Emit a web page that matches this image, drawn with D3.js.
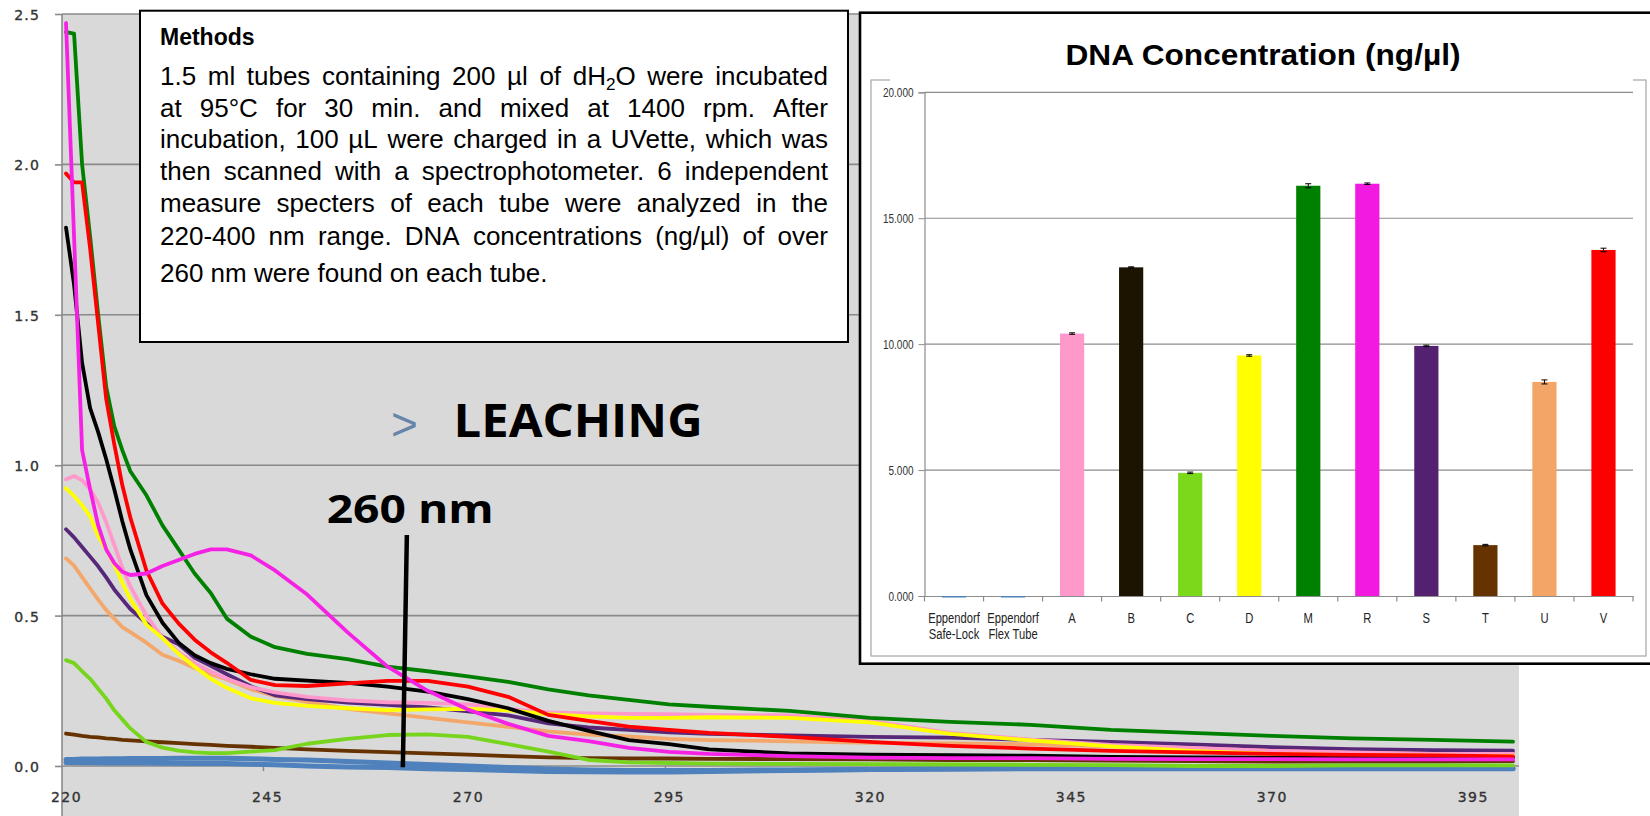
<!DOCTYPE html>
<html><head><meta charset="utf-8">
<script src="https://cdn.jsdelivr.net/npm/d3@7"></script>
<style>html,body{margin:0;padding:0;background:#fff;overflow:hidden}</style>
</head><body>
<svg id="c" width="1650" height="816" xmlns="http://www.w3.org/2000/svg"></svg>
<script>
// ================= DATA =================
const wavelengths = [220,221,222,223,224,225,226,227,228,230,232,234,236,238,240,243,246,250,255,260,265,270,275,280,285,290,295,300,310,320,330,340,350,360,370,380,390,400];
const absSafeLock = [0.022,0.022,0.023,0.023,0.023,0.024,0.024,0.024,0.025,0.025,0.025,0.026,0.026,0.026,0.026,0.024,0.022,0.02,0.015,0.01,0.005,0.0,-0.005,-0.01,-0.013,-0.015,-0.015,-0.015,-0.013,-0.012,-0.01,-0.008,-0.008,-0.008,-0.008,-0.008,-0.008,-0.008];
const absFlexTube = [0.012,0.012,0.011,0.011,0.011,0.01,0.01,0.01,0.01,0.01,0.009,0.009,0.008,0.008,0.008,0.006,0.004,0.0,-0.003,-0.005,-0.009,-0.012,-0.015,-0.018,-0.019,-0.02,-0.02,-0.018,-0.015,-0.012,-0.01,-0.009,-0.009,-0.009,-0.009,-0.009,-0.009,-0.009];
const absA = [0.953,0.964,0.95,0.92,0.875,0.81,0.735,0.66,0.597,0.50,0.427,0.378,0.342,0.314,0.29,0.262,0.245,0.23,0.218,0.212,0.21,0.205,0.19,0.178,0.175,0.173,0.172,0.17,0.168,0.15,0.11,0.088,0.07,0.06,0.05,0.045,0.04,0.04];
const absB = [1.79,1.6,1.34,1.19,1.11,1.02,0.92,0.814,0.72,0.568,0.476,0.41,0.368,0.342,0.323,0.305,0.29,0.284,0.276,0.264,0.247,0.222,0.192,0.15,0.117,0.086,0.073,0.055,0.042,0.038,0.036,0.034,0.03,0.029,0.028,0.028,0.028,0.028];
const absC = [0.352,0.342,0.315,0.29,0.257,0.224,0.185,0.155,0.125,0.08,0.061,0.051,0.045,0.043,0.043,0.048,0.053,0.074,0.09,0.103,0.105,0.097,0.073,0.048,0.02,0.012,0.01,0.008,0.007,0.006,0.005,0.004,0.003,0.0,0.0,0.002,0.002,0.002];
const absD = [0.923,0.898,0.866,0.83,0.764,0.72,0.67,0.61,0.555,0.47,0.425,0.373,0.33,0.29,0.26,0.225,0.21,0.2,0.192,0.186,0.188,0.19,0.185,0.172,0.165,0.16,0.16,0.162,0.16,0.145,0.107,0.085,0.065,0.05,0.04,0.036,0.034,0.033];
const absM = [2.44,2.435,2.0,1.76,1.5,1.26,1.13,1.05,0.98,0.90,0.80,0.72,0.64,0.575,0.49,0.43,0.395,0.373,0.355,0.33,0.315,0.298,0.28,0.255,0.235,0.22,0.205,0.197,0.183,0.16,0.147,0.137,0.12,0.11,0.10,0.092,0.087,0.081];
const absR = [2.47,1.76,1.05,0.92,0.80,0.72,0.675,0.646,0.635,0.64,0.665,0.685,0.705,0.72,0.72,0.70,0.65,0.57,0.445,0.33,0.25,0.188,0.14,0.10,0.083,0.06,0.047,0.04,0.033,0.028,0.026,0.026,0.024,0.023,0.023,0.022,0.022,0.022];
const absS = [0.787,0.76,0.728,0.696,0.664,0.627,0.587,0.554,0.522,0.475,0.43,0.405,0.36,0.333,0.305,0.265,0.235,0.222,0.211,0.203,0.195,0.182,0.168,0.142,0.128,0.12,0.112,0.107,0.102,0.097,0.094,0.087,0.08,0.072,0.063,0.056,0.053,0.051];
const absT = [0.108,0.104,0.1,0.097,0.095,0.092,0.09,0.087,0.085,0.082,0.079,0.076,0.073,0.07,0.067,0.064,0.06,0.055,0.05,0.046,0.042,0.038,0.033,0.029,0.026,0.025,0.025,0.024,0.023,0.022,0.02,0.02,0.018,0.016,0.015,0.015,0.015,0.016];
const absU = [0.69,0.666,0.628,0.59,0.553,0.518,0.49,0.462,0.445,0.41,0.37,0.35,0.326,0.305,0.288,0.255,0.233,0.213,0.19,0.175,0.16,0.145,0.13,0.115,0.104,0.098,0.09,0.086,0.082,0.077,0.075,0.072,0.065,0.058,0.053,0.05,0.046,0.044];
const absV = [1.97,1.94,1.94,1.72,1.47,1.22,1.07,0.934,0.826,0.65,0.54,0.474,0.42,0.378,0.343,0.286,0.269,0.266,0.275,0.283,0.283,0.264,0.23,0.17,0.15,0.131,0.12,0.11,0.097,0.08,0.067,0.058,0.05,0.045,0.04,0.037,0.035,0.032];
const xTickLabels = [220,245,270,295,320,345,370,395];
const yTickLabels = [0,0.5,1.0,1.5,2.0,2.5];

const tubeCategories = ['Eppendorf Safe-Lock','Eppendorf Flex Tube','A','B','C','D','M','R','S','T','U','V'];
const tubeLabelLines = [['Eppendorf','Safe-Lock'],['Eppendorf','Flex Tube'],['A'],['B'],['C'],['D'],['M'],['R'],['S'],['T'],['U'],['V']];
const dnaConc = [-0.03,-0.03,10.42,13.05,4.89,9.55,16.29,16.37,9.93,2.02,8.50,13.74];
const dnaErr  = [0,0,0.03,0.02,0.03,0.03,0.08,0.03,0.03,0.03,0.08,0.07];
const dnaTicks = [0,5,10,15,20];
const tubeColors = ['#4F81BD','#4F81BD','#FF99CC','#1C1400','#7BD91B','#FFFF00','#008000','#F21AE1','#532170','#663300','#F2A566','#FF0000'];

const methodsTitle = 'Methods';
const methodsLines = [
  '1.5 ml tubes containing 200 µl of dH₂O were incubated',
  'at 95°C for 30 min. and mixed at 1400 rpm. After',
  'incubation, 100 µL were charged in a UVette, which was',
  'then scanned with a spectrophotometer. 6 independent',
  'measure specters of each tube were analyzed in the',
  '220-400 nm range. DNA concentrations (ng/µl) of over',
  '260 nm were found on each tube.'
];
const chartTitle = 'DNA Concentration (ng/µl)';
const annotLabel = '260 nm';
const annotStart = {nm:262.4, v:0.768};
const annotEnd = {nm:261.9, v:-0.004};
const leachArrow = '>';
const leachText = 'LEACHING';

// ================= SETUP =================
const svg = d3.select('#c');
const SANS = '"Liberation Sans", Arial, sans-serif';
const NARROW_SCALE = 0.8;
function condense(sel){
  sel.each(function(){
    const w = this.getComputedTextLength();
    if (w > 0) d3.select(this).attr('textLength', w*NARROW_SCALE).attr('lengthAdjust','spacingAndGlyphs');
  });
}

const series = [
  {v:absSafeLock, c:'#4F81BD', w:5},
  {v:absFlexTube, c:'#4F81BD', w:5},
  {v:absT, c:'#663300', w:3.8},
  {v:absC, c:'#78D51E', w:3.8},
  {v:absU, c:'#F4A76A', w:3.8},
  {v:absS, c:'#572779', w:3.8},
  {v:absA, c:'#FF99CC', w:3.8},
  {v:absD, c:'#FFFF00', w:3.8},
  {v:absB, c:'#000000', w:3.8},
  {v:absM, c:'#008000', w:3.8},
  {v:absV, c:'#FF0000', w:3.8},
  {v:absR, c:'#F522E6', w:3.8}
];

// ================= MAIN SPECTRUM CHART =================
const x = d3.scaleLinear().domain([219.5,400.5]).range([62,1517]);
const y = d3.scaleLinear().domain([0,2.5]).range([766,14]);
const plotRight = 1519, plotBottom = 816;

svg.append('rect').attr('x',62).attr('y',y(2.5)).attr('width',plotRight-62).attr('height',plotBottom-y(2.5)).attr('fill','#D9D9D9');

svg.append('g').selectAll('line').data(yTickLabels).join('line')
  .attr('x1',62).attr('x2',plotRight).attr('y1',d=>y(d)).attr('y2',d=>y(d))
  .attr('stroke','#8A8A8A').attr('stroke-width',1.6);

const axisFont = sel => sel.style('font-family','"DejaVu Sans", Verdana, sans-serif').style('font-size','14px')
  .attr('fill','#333').attr('stroke','#333').attr('stroke-width',0.35);

const yAx = svg.append('g').attr('transform','translate(62,0)')
  .call(d3.axisLeft(y).tickValues(yTickLabels).tickFormat(d3.format('.1f')).tickSize(7).tickPadding(15));
yAx.select('.domain').remove();
yAx.selectAll('.tick line').attr('stroke','#8A8A8A').attr('stroke-width',1.6);
yAx.selectAll('.tick text').attr('dy',null).attr('y',5.5).call(axisFont).attr('letter-spacing','1.2px');
svg.append('line').attr('x1',62).attr('x2',62).attr('y1',y(2.5)).attr('y2',plotBottom)
  .attr('stroke','#8A8A8A').attr('stroke-width',1.6);

const xAx = svg.append('g').attr('transform',`translate(0,${y(0)})`)
  .call(d3.axisBottom(x).tickValues(xTickLabels).tickFormat(d3.format('d')).tickSize(0));
xAx.select('.domain').remove();
xAx.selectAll('.tick text').attr('dy',null).attr('y',35.7).call(axisFont).attr('letter-spacing','1.5px');
const xAx2 = svg.append('g').attr('transform',`translate(0,${y(0)})`)
  .call(d3.axisBottom(x).tickValues(xTickLabels.slice(1).map(d=>d-0.5)).tickFormat('').tickSize(5));
xAx2.select('.domain').remove();
xAx2.selectAll('.tick line').attr('stroke','#8A8A8A').attr('stroke-width',1.5);

svg.append('clipPath').attr('id','clipMain').append('rect')
  .attr('x',62).attr('y',0).attr('width',plotRight-62).attr('height',plotBottom);
const line = d3.line().x((d,i)=>x(wavelengths[i])).y(d=>y(d)).curve(d3.curveLinear);
svg.append('g').attr('clip-path','url(#clipMain)').selectAll('path').data(series).join('path')
  .attr('d',d=>line(d.v)).attr('fill','none').attr('stroke',d=>d.c).attr('stroke-width',d=>d.w)
  .attr('stroke-linejoin','round').attr('stroke-linecap','round');

svg.append('line').attr('x1',x(annotStart.nm)).attr('y1',y(annotStart.v))
  .attr('x2',x(annotEnd.nm)).attr('y2',y(annotEnd.v)).attr('stroke','#000').attr('stroke-width',4.5);
svg.append('text').attr('x',326.7).attr('y',523.3).text(annotLabel)
  .style('font-family','"Open Sans", "DejaVu Sans", sans-serif').style('font-weight','700').style('font-size','40px')
  .attr('textLength',167).attr('lengthAdjust','spacingAndGlyphs').attr('fill','#000');
svg.append('text').attr('x',391).attr('y',440).text(leachArrow)
  .style('font-family',SANS).style('font-size','46px').attr('fill','#6585AA');
svg.append('text').attr('x',453.6).attr('y',436.7).text(leachText)
  .style('font-family','"Open Sans", "DejaVu Sans", sans-serif').style('font-weight','700').style('font-size','46px')
  .attr('textLength',249).attr('lengthAdjust','spacingAndGlyphs').attr('fill','#000');

// ================= METHODS BOX =================
const mg = svg.append('g');
mg.append('rect').attr('x',140).attr('y',10.7).attr('width',708).attr('height',331.3)
  .attr('fill','#fff').attr('stroke','#000').attr('stroke-width',2);
mg.append('text').attr('x',160).attr('y',45).text(methodsTitle)
  .style('font-family',SANS).style('font-weight','700').style('font-size','23px').attr('fill','#000');
const mBase = [85,116.7,148.3,180,211.7,245,281.7];
const mLeft = 160, mWidth = 668, mSize = 26;
function addWord(g, word, size){
  const t = g.append('text').style('font-family',SANS).style('font-size',size+'px').attr('fill','#000');
  if (word.includes('₂')) {
    const parts = word.split('₂');
    t.append('tspan').text(parts[0]);
    t.append('tspan').attr('dy',5).style('font-size',(size*0.66)+'px').text('2');
    t.append('tspan').attr('dy',-5).text(parts[1]);
  } else t.text(word);
  return t;
}
methodsLines.forEach((ln,i)=>{
  const words = ln.split(' ');
  const g = mg.append('g');
  const nodes = words.map(w=>addWord(g,w,mSize));
  const widths = nodes.map(n=>n.node().getComputedTextLength());
  const total = d3.sum(widths);
  const last = i === methodsLines.length-1;
  const gap = last ? mSize*0.278 : (mWidth-total)/(words.length-1);
  let cx = mLeft;
  nodes.forEach((n,k)=>{ n.attr('x',cx).attr('y',mBase[i]); cx += widths[k]+gap; });
});

// ================= DNA CONCENTRATION BOX =================
const dg = svg.append('g');
dg.append('rect').attr('x',860).attr('y',12.7).attr('width',820).attr('height',651)
  .attr('fill','#fff').attr('stroke','#000').attr('stroke-width',2.6);
dg.append('rect').attr('x',871).attr('y',80).attr('width',775).attr('height',576)
  .attr('fill','none').attr('stroke','#A6A6A6').attr('stroke-width',1.2);
dg.append('rect').attr('x',890).attr('y',77).attr('width',743).attr('height',6).attr('fill','#fff');
dg.append('text').attr('x',1263).attr('y',64.5).attr('text-anchor','middle').text(chartTitle)
  .style('font-family',SANS).style('font-weight','700').style('font-size','30px')
  .attr('textLength',395).attr('lengthAdjust','spacingAndGlyphs').attr('fill','#000');

const xb = d3.scaleBand().domain(tubeCategories).range([924.5,1633]).paddingInner(0.59).paddingOuter(0.295);
const yb = d3.scaleLinear().domain([0,20]).range([596,92.3]);

dg.append('g').selectAll('line').data(dnaTicks.slice(1)).join('line')
  .attr('x1',xb.range()[0]).attr('x2',xb.range()[1]).attr('y1',d=>yb(d)).attr('y2',d=>yb(d))
  .attr('stroke','#8C8C8C').attr('stroke-width',1.2);
const ybAx = dg.append('g').attr('transform',`translate(${xb.range()[0]},0)`)
  .call(d3.axisLeft(yb).tickValues(dnaTicks).tickFormat(d3.format('.3f')).tickSize(6).tickPadding(5));
ybAx.select('.domain').attr('stroke','#8C8C8C').attr('stroke-width',1.2);
ybAx.selectAll('.tick line').attr('stroke','#8C8C8C');
ybAx.selectAll('.tick text').style('font-family',SANS).style('font-size','12.5px').attr('fill','#333').call(condense);
const xbAx = dg.append('g').attr('transform',`translate(0,${yb(0)})`)
  .call(d3.axisBottom(xb).tickSize(0).tickFormat(''));
xbAx.select('.domain').attr('stroke','#8C8C8C').attr('stroke-width',1.2);
const step = xb.step(), x0 = xb.range()[0];
dg.append('g').selectAll('line').data(d3.range(tubeCategories.length+1)).join('line')
  .attr('x1',i=>x0+i*step).attr('x2',i=>x0+i*step).attr('y1',yb(0)).attr('y2',yb(0)+5.5)
  .attr('stroke','#8C8C8C').attr('stroke-width',1.2);
const labG = dg.append('g');
tubeCategories.forEach((cat,i)=>{
  const cx = xb(cat)+xb.bandwidth()/2;
  tubeLabelLines[i].forEach((t,k)=>{
    labG.append('text').attr('x',cx).attr('y',622.7+k*16.6).attr('text-anchor','middle').text(t)
      .style('font-family',SANS).style('font-size','14px').attr('fill','#222');
  });
});
labG.selectAll('text').call(condense);
dg.append('g').selectAll('rect').data(tubeCategories).join('rect')
  .attr('x',d=>xb(d)).attr('width',xb.bandwidth())
  .attr('y',(d,i)=>yb(Math.max(0,dnaConc[i])))
  .attr('height',(d,i)=>Math.max(1.5,Math.abs(yb(dnaConc[i])-yb(0))))
  .attr('fill',(d,i)=>tubeColors[i]);
const eg = dg.append('g').attr('stroke','#000').attr('stroke-width',1);
tubeCategories.forEach((cat,i)=>{
  if (!dnaErr[i]) return;
  const cx = xb(cat)+xb.bandwidth()/2;
  const y1 = yb(dnaConc[i]-dnaErr[i]), y2 = yb(dnaConc[i]+dnaErr[i]);
  eg.append('line').attr('x1',cx).attr('x2',cx).attr('y1',y1).attr('y2',y2);
  eg.append('line').attr('x1',cx-3).attr('x2',cx+3).attr('y1',y1).attr('y2',y1);
  eg.append('line').attr('x1',cx-3).attr('x2',cx+3).attr('y1',y2).attr('y2',y2);
});
</script>
</body></html>
